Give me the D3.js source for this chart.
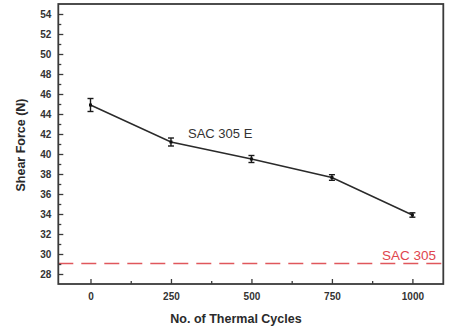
<!DOCTYPE html>
<html>
<head>
<meta charset="utf-8">
<script src="https://cdn.jsdelivr.net/npm/d3@7"></script>
<style>
  html, body { margin: 0; padding: 0; background: #fff; }
  svg { display: block; font-family: Arial, "Liberation Sans", sans-serif; }
</style>
</head>
<body>
<svg id="chart" width="456" height="334"></svg>
<script>
// Shear force of SAC 305 E joints versus thermal cycling
const cycles = [0, 250, 500, 750, 1000];
const shearForce = [44.9, 41.2, 39.5, 37.65, 33.9];
const shearError = [0.65, 0.4, 0.35, 0.28, 0.22];
const referenceForce = 29.05;           // SAC 305 reference level
const seriesLabel = "SAC 305 E";
const referenceLabel = "SAC 305";
const xTicks = [0, 250, 500, 750, 1000];
const xMinorTicks = [125, 375, 625, 875];
const yTicks = [28, 30, 32, 34, 36, 38, 40, 42, 44, 46, 48, 50, 52, 54];
const yMinorTicks = [29, 31, 33, 35, 37, 39, 41, 43, 45, 47, 49, 51, 53];

const svg = d3.select("#chart");
const frame = { left: 58.3, right: 443.3, top: 4, bottom: 284 };

const x = d3.scaleLinear().domain([-100, 1096]).range([frame.left, frame.right]);
const y = d3.scaleLinear().domain([27, 55]).range([frame.bottom, frame.top]);

const axisColor = "#3a3a3a";
const textColor = "#333";

// Reference dashed line
svg.append("line")
  .attr("x1", x(-100)).attr("x2", x(1096))
  .attr("y1", y(referenceForce)).attr("y2", y(referenceForce))
  .attr("stroke", "#e0575c")
  .attr("stroke-width", 1.4)
  .attr("stroke-dasharray", "15,8");

svg.append("text")
  .attr("x", 436).attr("y", 259.5)
  .attr("text-anchor", "end")
  .attr("fill", "#e0454d")
  .attr("font-size", 13.5)
  .text(referenceLabel);

// Axes with inward ticks
const yAxis = d3.axisLeft(y).tickValues(yTicks).tickSize(-5).tickPadding(7)
  .tickFormat(d3.format("d"));
const yMinor = d3.axisLeft(y).tickValues(yMinorTicks).tickSize(-3).tickFormat("");
const xAxis = d3.axisBottom(x).tickValues(xTicks).tickSize(-5).tickPadding(9)
  .tickFormat(d3.format("d"));
const xMinor = d3.axisBottom(x).tickValues(xMinorTicks).tickSize(-3).tickFormat("");

function styleAxis(g) {
  g.select(".domain").remove();
  g.selectAll(".tick line").attr("stroke", axisColor).attr("stroke-width", 1.3);
  g.selectAll(".tick text")
    .attr("fill", textColor)
    .attr("font-size", 10)
    .attr("font-weight", "bold")
    .attr("font-family", "Arial, 'Liberation Sans', sans-serif");
}

svg.append("g").attr("transform", `translate(${frame.left},0)`).call(yAxis).call(styleAxis);
svg.append("g").attr("transform", `translate(${frame.left},0)`).call(yMinor).call(styleAxis);
svg.append("g").attr("transform", `translate(0,${frame.bottom})`).call(xAxis).call(styleAxis);
svg.append("g").attr("transform", `translate(0,${frame.bottom})`).call(xMinor).call(styleAxis);

// Plot frame
svg.append("rect")
  .attr("x", frame.left).attr("y", frame.top)
  .attr("width", frame.right - frame.left)
  .attr("height", frame.bottom - frame.top)
  .attr("fill", "none")
  .attr("stroke", axisColor)
  .attr("stroke-width", 1.8);

// Data line
const pts = cycles.map((c, i) => ({ c, v: shearForce[i], e: shearError[i] }));
svg.append("path")
  .datum(pts)
  .attr("fill", "none")
  .attr("stroke", "#2a2a2a")
  .attr("stroke-width", 1.5)
  .attr("d", d3.line().x(d => x(d.c)).y(d => y(d.v)));

// Error bars
const eb = svg.append("g").attr("stroke", "#1a1a1a").attr("stroke-width", 1.4);
pts.forEach(d => {
  const cx = x(d.c);
  eb.append("line").attr("x1", cx).attr("x2", cx)
    .attr("y1", y(d.v + d.e)).attr("y2", y(d.v - d.e));
  eb.append("line").attr("x1", cx - 3).attr("x2", cx + 3)
    .attr("y1", y(d.v + d.e)).attr("y2", y(d.v + d.e));
  eb.append("line").attr("x1", cx - 3).attr("x2", cx + 3)
    .attr("y1", y(d.v - d.e)).attr("y2", y(d.v - d.e));
});
svg.append("g").selectAll("rect").data(pts).join("rect")
  .attr("x", d => x(d.c) - 1.5).attr("y", d => y(d.v) - 1.5)
  .attr("width", 3).attr("height", 3)
  .attr("fill", "#111");

svg.append("text")
  .attr("x", 188).attr("y", 138)
  .attr("fill", "#333")
  .attr("font-size", 13)
  .text(seriesLabel);

// Axis titles
svg.append("text")
  .attr("x", 236).attr("y", 323)
  .attr("text-anchor", "middle")
  .attr("fill", "#2a2a2a")
  .attr("font-size", 12.5)
  .attr("font-weight", "bold")
  .text("No. of Thermal Cycles");

svg.append("text")
  .attr("transform", `translate(25,145) rotate(-90)`)
  .attr("text-anchor", "middle")
  .attr("fill", "#2a2a2a")
  .attr("font-size", 12.5)
  .attr("font-weight", "bold")
  .text("Shear Force (N)");
</script>
</body>
</html>
